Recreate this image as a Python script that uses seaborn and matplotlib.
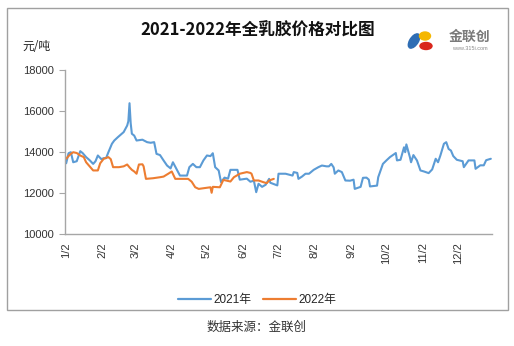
import matplotlib
matplotlib.use("Agg")
import matplotlib.pyplot as plt
from matplotlib.patches import Rectangle, Ellipse
import pandas as pd
import seaborn as sns

# ---------------- data ----------------
dates_2021 = ["01-02","01-04","01-06","01-08","01-11","01-14","01-16","01-19","01-22","01-25",
              "01-27","01-29","02-01","02-03","02-05","02-07","02-10","02-12","02-15","02-20",
              "02-23","02-24","02-25","02-26","02-27","03-01","03-03","03-08","03-12","03-15",
              "03-18","03-20","03-23","03-26","03-29","04-01","04-03","04-06","04-09","04-15",
              "04-17","04-20","04-23","04-26","04-29","05-02","05-05","05-07","05-09","05-12",
              "05-14","05-17","05-20","05-22","05-28","05-30","06-05","06-08","06-11","06-13",
              "06-15","06-18","06-21","06-24","06-25","07-01","07-02","07-08","07-14","07-15",
              "07-18","07-19","07-22","07-25","07-28","08-01","08-05","08-08","08-12","08-14",
              "08-16","08-18","08-19","08-22","08-25","08-28","09-01","09-04","09-05","09-10",
              "09-12","09-15","09-17","09-18","09-24","09-25","09-29","10-02","10-05","10-10",
              "10-11","10-14","10-17","10-18","10-19","10-22","10-23","10-25","10-28","10-31",
              "11-03","11-07","11-10","11-13","11-15","11-17","11-20","11-22","11-24","11-26",
              "11-28","12-01","12-06","12-07","12-11","12-16","12-17","12-21","12-24","12-26",
              "12-30"]
values_2021 = [13450,13940,13990,13500,13550,14040,13950,13750,13600,13420,
               13550,13830,13650,13700,13700,13990,14400,14560,14720,14970,
               15290,15500,16380,15400,14890,14800,14560,14600,14480,14450,
               14480,13910,13850,13590,13340,13200,13500,13180,12850,12850,
               13260,13420,13260,13260,13590,13830,13800,13940,13260,13100,
               12530,12750,12700,13130,13130,12650,12700,12550,12600,12040,
               12450,12300,12400,12690,12500,12370,12940,12940,12850,13020,
               12980,12690,12800,12940,12940,13130,13260,13340,13300,13300,
               13420,13250,12940,13100,13020,12610,12600,12650,12200,12300,
               12740,12750,12650,12320,12360,12770,13420,13590,13750,13950,
               13590,13620,14230,13990,14370,13750,13500,13850,13590,13100,
               13050,12970,13150,13670,13500,13830,14400,14480,14150,14070,
               13800,13620,13550,13260,13590,13590,13180,13350,13350,13600,
               13670]

dates_2022 = ["01-02","01-04","01-06","01-08","01-11","01-14","01-17","01-19","01-22","01-25",
              "01-29","01-31","02-03","02-07","02-09","02-11","02-16","02-20","02-23","02-25",
              "02-27","03-01","03-03","03-05","03-08","03-09","03-11","03-17","03-23","03-26",
              "03-30","04-02","04-05","04-16","04-19","04-22","04-25","05-05","05-06","05-07",
              "05-13","05-16","05-22","05-25","05-30","06-05","06-08","06-09","06-11","06-15",
              "06-19","06-22","06-24","06-28"]
values_2022 = [13670,13800,13910,13990,13950,13830,13750,13500,13300,13100,
               13100,13450,13670,13750,13650,13260,13260,13300,13390,13250,
               13130,13050,12940,13390,13400,13300,12690,12720,12770,12800,
               12940,13050,12690,12690,12550,12280,12200,12280,12010,12300,
               12280,12640,12560,12770,12940,13020,12980,12940,12610,12610,
               12530,12480,12610,12690]

series_names = ["2021年", "2022年"]
tick_labels = ["1/2","2/2","3/2","4/2","5/2","6/2","7/2","8/2","9/2","10/2","11/2","12/2"]
y_ticks = [10000, 12000, 14000, 16000, 18000]
colors = ["#5B9BD5", "#ED7D31"]

# common calendar year so both series share a month/day axis
df = pd.concat([
    pd.DataFrame({"date": pd.to_datetime(["2021-" + d for d in dates_2021]),
                  "price": values_2021, "series": series_names[0]}),
    pd.DataFrame({"date": pd.to_datetime(["2021-" + d for d in dates_2022]),
                  "price": values_2022, "series": series_names[1]}),
], ignore_index=True)

# ---------------- style ----------------
sns.set_style("white")
plt.rcParams["font.family"] = ["Liberation Sans", "Noto Sans CJK SC", "DejaVu Sans"]

fig = plt.figure(figsize=(5.14, 3.46), dpi=100)
ax = fig.add_axes([65/514, (346-234)/346, (492-65)/514, (234-70)/346])

sns.lineplot(data=df, x="date", y="price", hue="series", palette=colors,
             hue_order=series_names, linewidth=1.5, ax=ax, legend=True)

ax.set_xlim(pd.Timestamp("2021-01-01"), pd.Timestamp("2021-12-31"))
ax.set_ylim(10000, 18000)
ax.set_yticks(y_ticks)
ax.set_yticklabels([str(v) for v in y_ticks], fontsize=8, color="#333333")
tick_dates = [pd.Timestamp(f"2021-{m:02d}-02") for m in range(1, 13)]
ax.set_xticks(tick_dates)
ax.set_xticklabels(tick_labels, rotation=90, fontsize=8, color="#333333")
ax.tick_params(axis="x", length=0, pad=6)
ax.tick_params(axis="y", length=4, width=0.8, color="#A6A6A6", direction="out", left=True, pad=4)
ax.set_xlabel("")
ax.set_ylabel("")
for s in ["top", "right"]:
    ax.spines[s].set_visible(False)
for s in ["left", "bottom"]:
    ax.spines[s].set_color("#A6A6A6")
    ax.spines[s].set_linewidth(1.0)

leg = ax.legend(loc="upper center", bbox_to_anchor=(0.45, -0.3), ncol=2, frameon=False,
                fontsize=8.5, handlelength=2.8, columnspacing=1.0, handletextpad=0.2)
for line in leg.get_lines():
    line.set_linewidth(1.6)

# ---------------- text & frame ----------------
fig.patches.append(Rectangle((7/514, 1 - 310/346), (508-7)/514, (310-8)/346,
                             transform=fig.transFigure, fill=False,
                             edgecolor="#A0A0A0", linewidth=1.0))
fig.text(258/514, 1 - 31/346, "2021-2022年全乳胶价格对比图", ha="center", va="center",
         fontsize=12, fontweight="bold", color="#111111",
         family=["Noto Sans CJK SC", "DejaVu Sans"])
fig.text(22/514, 1 - 46/346, "元/吨", ha="left", va="center", fontsize=8.5,
         color="#222222", family=["Noto Sans CJK SC", "DejaVu Sans"])
fig.text(257/514, 1 - 327/346, "数据来源：金联创", ha="center", va="center", fontsize=9,
         color="#333333", family=["Noto Sans CJK SC", "DejaVu Sans"])

# logo
fig.patches.append(Ellipse((414/514, 1 - 41/346), 9/514, 15/346, angle=-20,
                           transform=fig.transFigure, color="#2E6DB4"))
fig.patches.append(Ellipse((425/514, 1 - 36/346), 11/514, 8/346, angle=0,
                           transform=fig.transFigure, color="#F5B700"))
fig.patches.append(Ellipse((426/514, 1 - 46/346), 12/514, 7/346, angle=0,
                           transform=fig.transFigure, color="#D9261C"))
fig.text(470/514, 1 - 37/346, "金联创", ha="center", va="center", fontsize=10,
         fontweight="bold", color="#7A7A7A", family=["Noto Sans CJK SC", "DejaVu Sans"])
fig.text(470/514, 1 - 48/346, "www.315i.com", ha="center", va="center", fontsize=4,
         color="#8A8A8A")

fig.savefig("out.png", dpi=100, facecolor="white")
